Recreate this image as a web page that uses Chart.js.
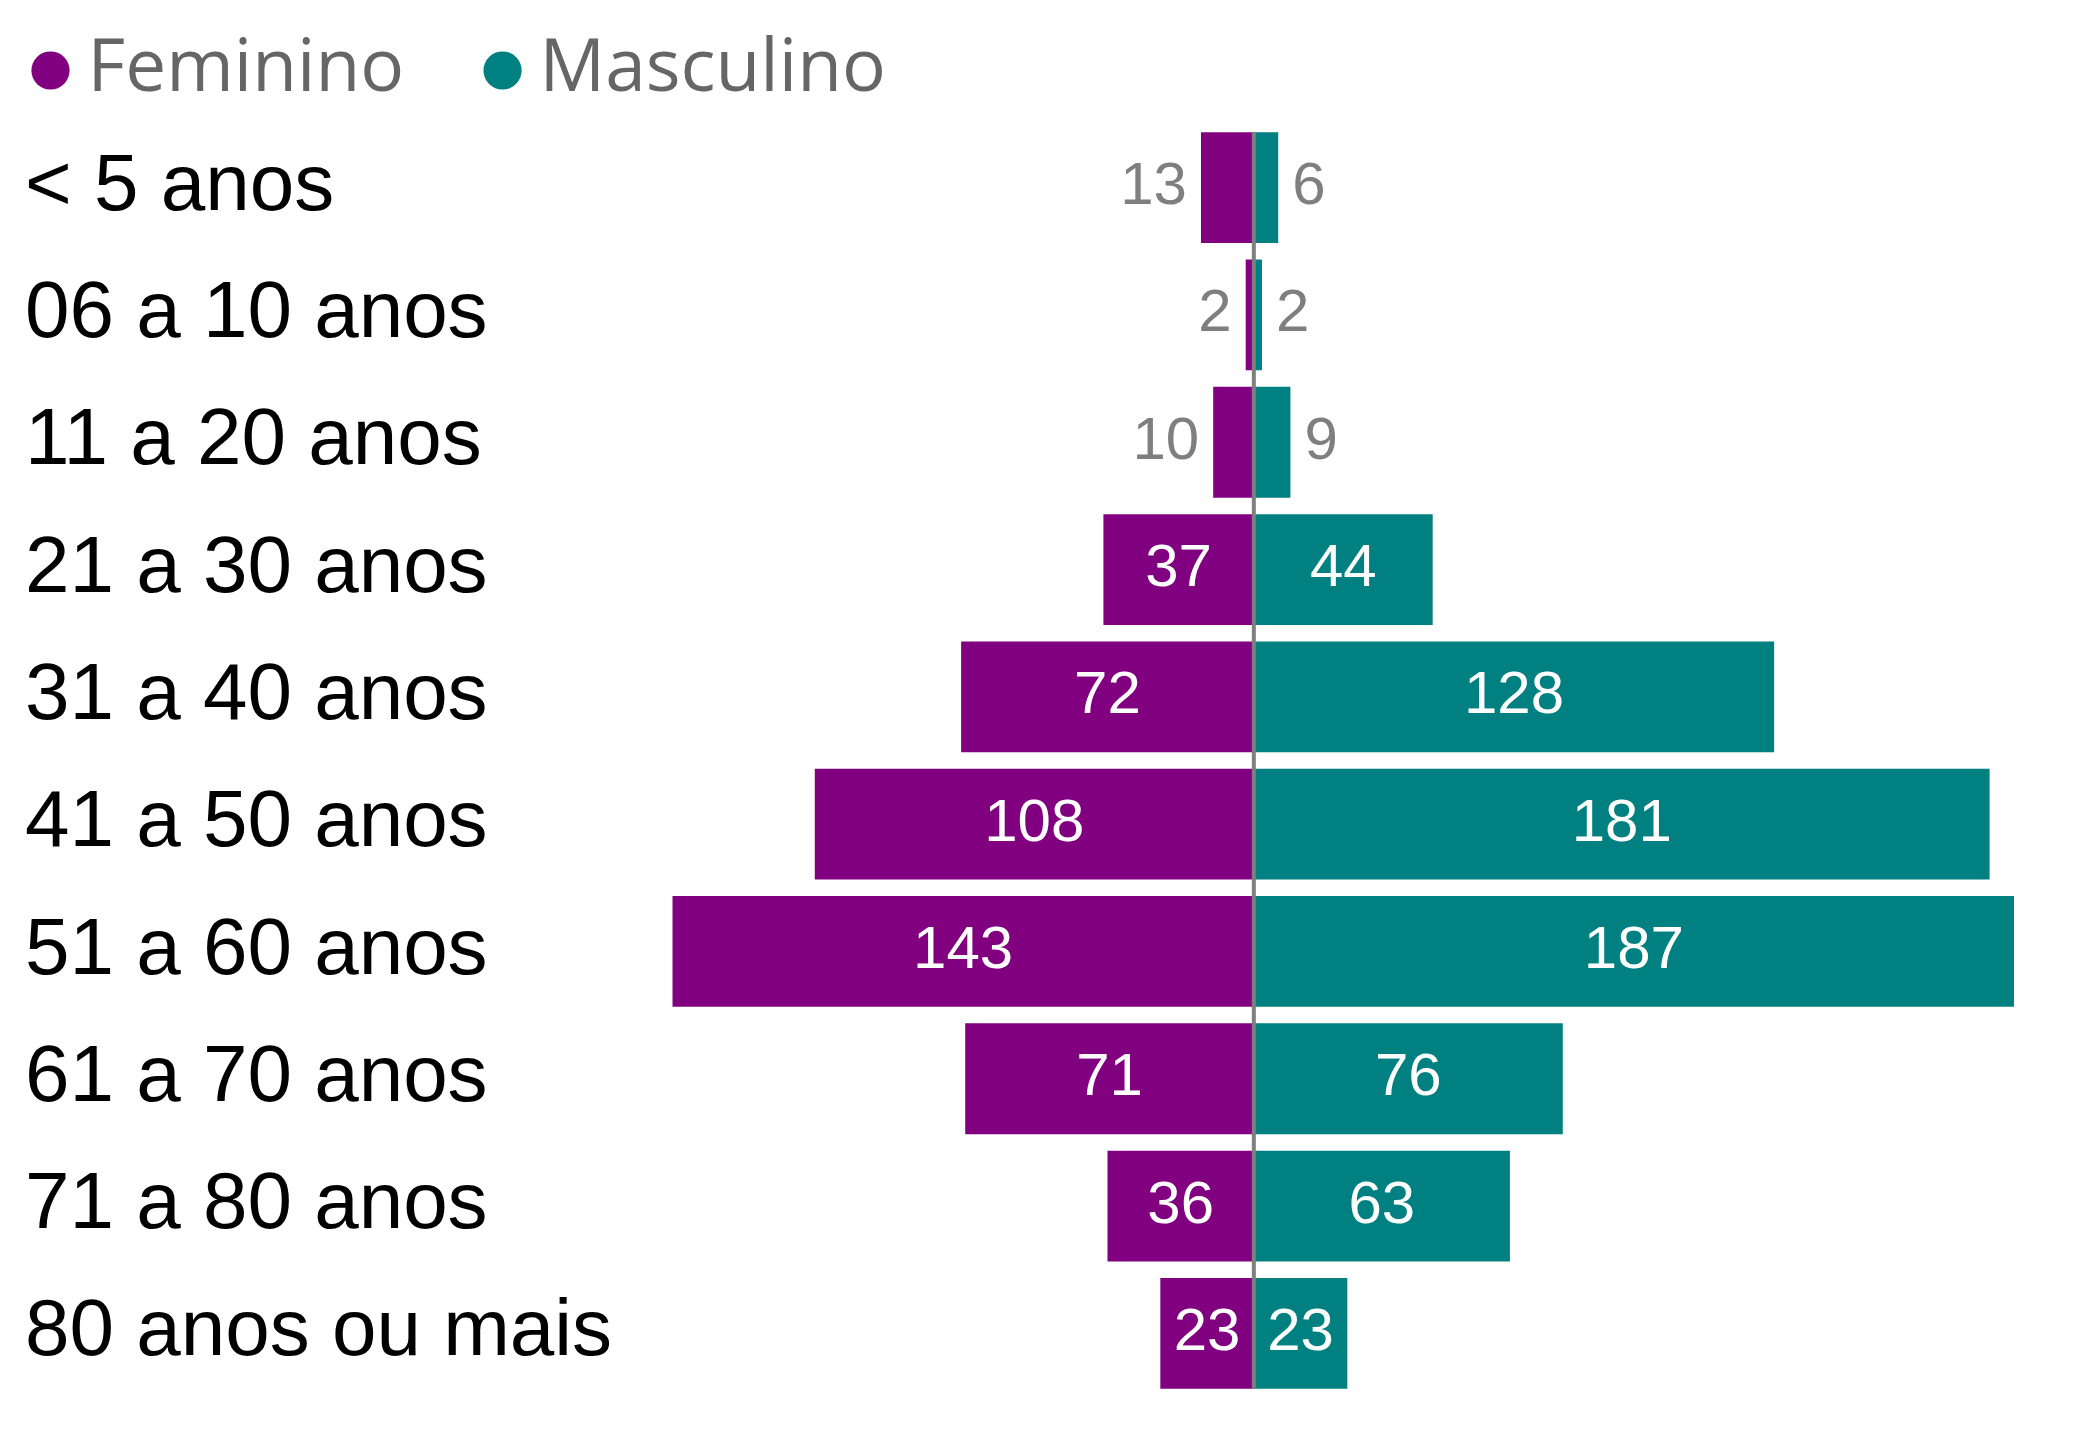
<!DOCTYPE html>
<html>
<head>
<meta charset="utf-8">
<script src="https://cdn.jsdelivr.net/npm/chart.js@4"></script>
<style>
  body { margin: 0; background: #fff; }
  canvas { display: block; }
</style>
</head>
<body>
<canvas id="chart" width="2075" height="1445"></canvas>
<script>
const ageGroups = [
    "< 5 anos", "06 a 10 anos", "11 a 20 anos", "21 a 30 anos", "31 a 40 anos",
    "41 a 50 anos", "51 a 60 anos", "61 a 70 anos", "71 a 80 anos", "80 anos ou mais"
];
const feminino = [13, 2, 10, 37, 72, 108, 143, 71, 36, 23];
const masculino = [6, 2, 9, 44, 128, 181, 187, 76, 63, 23];

const PURPLE = "#800080";
const TEAL = "#008080";
const ARIAL = '"Liberation Sans", Arial, sans-serif';

// the built-in legend pads both sides with labels.padding; move it back to the corner
const legendNudge = {
    id: "legendNudge",
    afterLayout(chart) {
        chart.legend.left -= 73;
        chart.legend.top -= 64;
    }
};

// grey zero line running over the bars
const zeroLine = {
    id: "zeroLine",
    afterDatasetsDraw(chart) {
        const bars = chart.getDatasetMeta(0).data;
        const first = bars[0];
        const last = bars[bars.length - 1];
        const x = chart.scales.x.getPixelForValue(0);
        const ctx = chart.ctx;
        ctx.save();
        ctx.strokeStyle = "#7f7f7f";
        ctx.lineWidth = 4;
        ctx.beginPath();
        ctx.moveTo(x, first.y - first.height / 2);
        ctx.lineTo(x, last.y + last.height / 2);
        ctx.stroke();
        ctx.restore();
    }
};

// value labels: white inside the bar, grey outside when the bar is too short
const valueLabels = {
    id: "valueLabels",
    afterDatasetsDraw(chart) {
        const ctx = chart.ctx;
        ctx.save();
        ctx.font = "60px " + ARIAL;
        ctx.textBaseline = "middle";
        chart.data.datasets.forEach((ds, i) => {
            chart.getDatasetMeta(i).data.forEach((bar, j) => {
                const value = ds.data[j];
                const text = String(Math.abs(value));
                const tw = ctx.measureText(text).width;
                const left = Math.min(bar.x, bar.base);
                const right = Math.max(bar.x, bar.base);
                if (right - left > tw + 10) {
                    ctx.fillStyle = "#ffffff";
                    ctx.textAlign = "center";
                    ctx.fillText(text, (left + right) / 2, bar.y);
                } else if (value < 0) {
                    ctx.fillStyle = "#7f7f7f";
                    ctx.textAlign = "right";
                    ctx.fillText(text, left - 14, bar.y);
                } else {
                    ctx.fillStyle = "#7f7f7f";
                    ctx.textAlign = "left";
                    ctx.fillText(text, right + 14, bar.y);
                }
            });
        });
        ctx.restore();
    }
};

new Chart(document.getElementById("chart"), {
    type: "bar",
    data: {
        labels: ageGroups,
        datasets: [
            {
                label: "Feminino",
                data: feminino.map(v => -v),
                backgroundColor: PURPLE,
                borderWidth: 0
            },
            {
                label: "Masculino",
                data: masculino,
                backgroundColor: TEAL,
                borderWidth: 0
            }
        ]
    },
    options: {
        indexAxis: "y",
        responsive: false,
        devicePixelRatio: 1,
        animation: false,
        categoryPercentage: 0.87,
        barPercentage: 1,
        layout: {
            padding: { top: 0, left: 25, right: 35, bottom: 48 }
        },
        scales: {
            x: {
                stacked: true,
                display: false,
                min: -151,
                max: 193.4
            },
            y: {
                stacked: true,
                grid: { display: false },
                border: { display: false },
                ticks: {
                    crossAlign: "far",
                    padding: 0,
                    color: "#000000",
                    font: { family: ARIAL, size: 80 }
                },
                afterFit(scale) {
                    scale.width = 615;
                    scale.paddingTop = 0;
                    scale.paddingBottom = 0;
                }
            }
        },
        plugins: {
            tooltip: { enabled: false },
            legend: {
                position: "top",
                align: "start",
                maxHeight: 124,
                labels: {
                    usePointStyle: true,
                    pointStyle: "circle",
                    boxWidth: 1,
                    boxHeight: 27,
                    padding: 98,
                    color: "#666666",
                    font: { family: '"Open Sans", "Noto Sans", sans-serif', size: 73 }
                }
            }
        }
    },
    plugins: [legendNudge, zeroLine, valueLabels]
});
</script>
</body>
</html>
